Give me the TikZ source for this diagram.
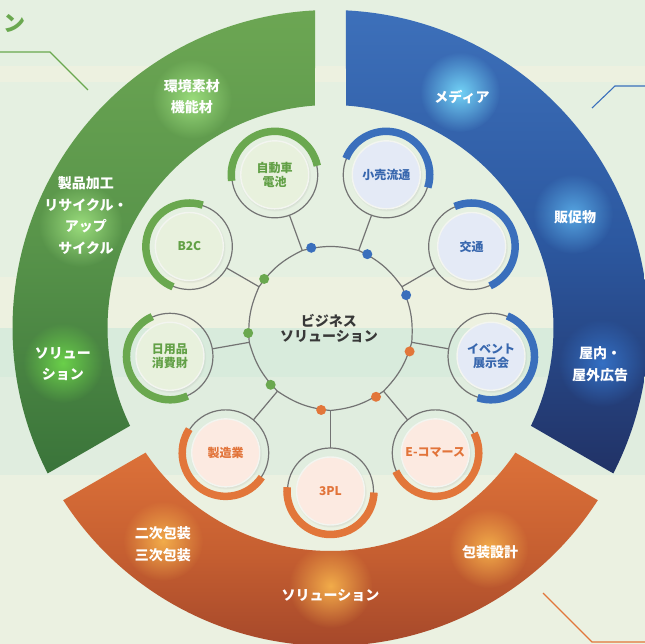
\documentclass[tikz,border=0pt]{standalone}
\usepackage{fontspec}
\setmainfont{Noto Sans CJK JP}
\usetikzlibrary{fadings,shadows}

\definecolor{bgbase}{HTML}{E5F0E1}
\definecolor{bgcream}{HTML}{EDF1E0}
\definecolor{bggreen}{HTML}{D8EBDC}
\definecolor{bgmid}{HTML}{E0EDDF}
\definecolor{bglow}{HTML}{EBF1E1}

\definecolor{gTop}{HTML}{6CA653}
\definecolor{gMid}{HTML}{58944A}
\definecolor{gBot}{HTML}{3A743A}
\definecolor{bTop}{HTML}{3D70BA}
\definecolor{bMid}{HTML}{2C58A0}
\definecolor{bBot}{HTML}{213266}
\definecolor{oTop}{HTML}{DC7139}
\definecolor{oMid}{HTML}{C65F31}
\definecolor{oBot}{HTML}{A4472A}

\definecolor{arcG}{HTML}{6AA84F}
\definecolor{arcB}{HTML}{3A6FBC}
\definecolor{arcO}{HTML}{E2763A}
\definecolor{fillG}{HTML}{E8F1DD}
\definecolor{fillB}{HTML}{E4EAF6}
\definecolor{fillO}{HTML}{FCEAE1}
\definecolor{textG}{HTML}{62A046}
\definecolor{textB}{HTML}{3867AE}
\definecolor{textO}{HTML}{E2743A}
\definecolor{ringgray}{HTML}{737373}
\definecolor{coreborder}{HTML}{F3F5F0}
\definecolor{hubtextc}{HTML}{383838}

\definecolor{glowG}{HTML}{9ADC7C}
\definecolor{glowGb}{HTML}{6AD04A}
\definecolor{glowB1}{HTML}{72D2F6}
\definecolor{glowB2}{HTML}{56A6E2}
\definecolor{glowB3}{HTML}{3470C4}
\definecolor{glowO}{HTML}{F2AC4A}

\tikzfading[name=glowfade, inner color=transparent!0, outer color=transparent!100]

\newcommand\greensector{(92.79:318) arc[start angle=92.79, end angle=207.21, radius=318]
  -- (206.01:223) arc[start angle=206.01, end angle=93.99, radius=223] -- cycle}
\newcommand\bluesector{(-27.21:318) arc[start angle=-27.21, end angle=87.21, radius=318]
  -- (86.01:223) arc[start angle=86.01, end angle=-26.01, radius=223] -- cycle}
\newcommand\orangesector{(212.79:318) arc[start angle=212.79, end angle=327.21, radius=318]
  -- (326.01:223) arc[start angle=326.01, end angle=213.99, radius=223] -- cycle}

\newcommand\mysat[6]{%
  \node[satring] (sat#2) at (#1:163) {};
  \draw[satarc, draw=arc#3] (sat#2.center) ++(#4:43.5) arc[start angle=#4, end angle=#5, radius=43.5];
  \node[satcore, fill=fill#3, text=text#3] (core#2) at (sat#2.center) {#6};
  \coordinate (j#2) at (#1:82.5);
  \draw[link] (j#2) -- (sat#2);
}

\begin{document}
\begin{tikzpicture}[x=1pt, y=1pt,
  satring/.style={circle, minimum size=86pt, inner sep=0pt, outer sep=0pt, draw=ringgray, line width=1.2pt},
  satarc/.style={line width=7.5pt, line cap=butt},
  satcore/.style={circle, minimum size=68pt, inner sep=0pt, outer sep=0pt, draw=coreborder, line width=1.4pt,
    align=center, font=\bfseries\fontsize{12}{14.5}\selectfont,
    circular drop shadow={shadow xshift=0.6pt, shadow yshift=-1pt, shadow scale=1.05, opacity=0.3}},
  link/.style={draw=ringgray, line width=1.2pt},
  dotnode/.style={circle, minimum size=10pt, inner sep=0pt, outer sep=0pt},
  ringlabel/.style={text=white, align=center, font=\bfseries\fontsize{14}{21.5}\selectfont, inner sep=0pt},
  hubtext/.style={text=hubtextc, align=center, font=\bfseries\fontsize{14}{15}\selectfont, inner sep=0pt},
  deco/.style={line width=1.1pt},
  glowspot/.style={path fading=glowfade}
]
\useasboundingbox (-330.5,-316) rectangle (314.5,328);

% background
\fill[bgbase] (-330.5,-316) rectangle (314.5,328);
\fill[bgcream] (-330.5,246) rectangle (314.5,262);
\fill[bgcream] (-330.5,0) rectangle (314.5,51);
\fill[bggreen] (-330.5,-49) rectangle (314.5,0);
\fill[bgmid] (-330.5,-147) rectangle (314.5,-49);
\fill[bglow] (-330.5,-316) rectangle (314.5,-147);

% decorative lines
\coordinate (gl1) at (-330.5,276);
\coordinate (gl2) at (-280.5,276);
\coordinate (gl3) at (-242.5,238);
\draw[deco, draw=arcG] (gl1) -- (gl2) -- (gl3);
\coordinate (bl1) at (261.5,220);
\coordinate (bl2) at (284.5,242);
\coordinate (bl3) at (314.5,242);
\draw[deco, draw=arcB] (bl1) -- (bl2) -- (bl3);
\coordinate (ol1) at (212.5,-265);
\coordinate (ol2) at (261.5,-314);
\coordinate (ol3) at (314.5,-314);
\draw[deco, draw=arcO] (ol1) -- (ol2) -- (ol3);

\node[text=arcG, font=\bfseries\fontsize{22}{22}\selectfont, inner sep=0pt] (title) at (-315.5,305) {ン};

% ring sectors
\shade[top color=gTop, bottom color=gBot, middle color=gMid] \greensector;
\shade[top color=bTop, bottom color=bBot, middle color=bMid] \bluesector;
\shade[top color=oTop, bottom color=oBot, middle color=oMid] \orangesector;

% glows
\begin{scope}
  \clip \greensector;
  \fill[glowG, glowspot] (-138.5,229) circle (40);
  \fill[glowG, glowspot] (-250,103) circle (42);
  \fill[glowGb, glowspot] (-267.5,-35) circle (40);
\end{scope}
\begin{scope}
  \clip \bluesector;
  \fill[glowB1, glowspot] (129.5,236) circle (40);
  \fill[glowB2, glowspot] (242.5,114) circle (40);
  \fill[glowB3, glowspot] (271.5,-35) circle (44);
\end{scope}
\begin{scope}
  \clip \orangesector;
  \fill[glowO, glowspot] (-167.5,-213) circle (40);
  \fill[glowO, glowspot] (158,-220) circle (40);
  \fill[glowO, glowspot] (0,-258) circle (42);
\end{scope}

% ring labels
\node[ringlabel] (lg1) at (-138.5,231.5) {環境素材\\機能材};
\node[ringlabel] (lg2) at (-244.5,112.5) {製品加工\\リサイクル・\\アップ\\サイクル};
\node[ringlabel] (lg3) at (-267.5,-36) {ソリュー\\ション};
\node[ringlabel] (lb1) at (131.5,231) {メディア};
\node[ringlabel] (lb2) at (244.5,111) {販促物};
\node[ringlabel] (lb3) at (269.5,-36) {屋内・\\屋外広告};
\node[ringlabel] (lo1) at (-167.5,-216) {二次包装\\三次包装};
\node[ringlabel] (lo2) at (159.5,-224) {包装設計};
\node[ringlabel] (lo3) at (0,-267) {ソリューション};

% satellites
\mysat{110}{1}{G}{12}{188}{自動車\\電池}
\mysat{70}{2}{B}{-17}{158}{小売流通}
\mysat{30}{3}{B}{-65}{113}{交通}
\mysat{-10}{4}{B}{-108}{68}{イベント\\展示会}
\mysat{-50}{5}{O}{-155}{27}{E-コマース}
\mysat{-90}{6}{O}{-185}{-2}{3PL}
\mysat{230}{7}{O}{147}{326}{製造業}
\mysat{190}{8}{G}{114}{294}{日用品\\消費財}
\mysat{150}{9}{G}{72}{248}{B2C}

% central shape
\draw[link] (j6) to[bend right=14] (j5) to[bend right=14] (j4) to[bend right=14] (j3)
  to[bend right=14] (j2) to[bend right=14] (j1) to[bend right=14] (j9)
  to[bend right=14] (j8) to[bend right=14] (j7) to[bend right=14] (j6);

% dots
\node[dotnode, fill=arcG] (dot1) at (143.5:82.5) {};
\node[dotnode, fill=arcB] (dot2) at (103.5:82.5) {};
\node[dotnode, fill=arcB] (dot3) at (63.5:82.5) {};
\node[dotnode, fill=arcB] (dot4) at (23.5:82.5) {};
\node[dotnode, fill=arcO] (dot5) at (-16.5:82.5) {};
\node[dotnode, fill=arcO] (dot6) at (-56.5:82.5) {};
\node[dotnode, fill=arcO] (dot7) at (263.5:82.5) {};
\node[dotnode, fill=arcG] (dot8) at (223.5:82.5) {};
\node[dotnode, fill=arcG] (dot9) at (183.5:82.5) {};

\node[hubtext] (hub) at (-1.5,0) {ビジネス\\ソリューション};
\end{tikzpicture}
\end{document}
